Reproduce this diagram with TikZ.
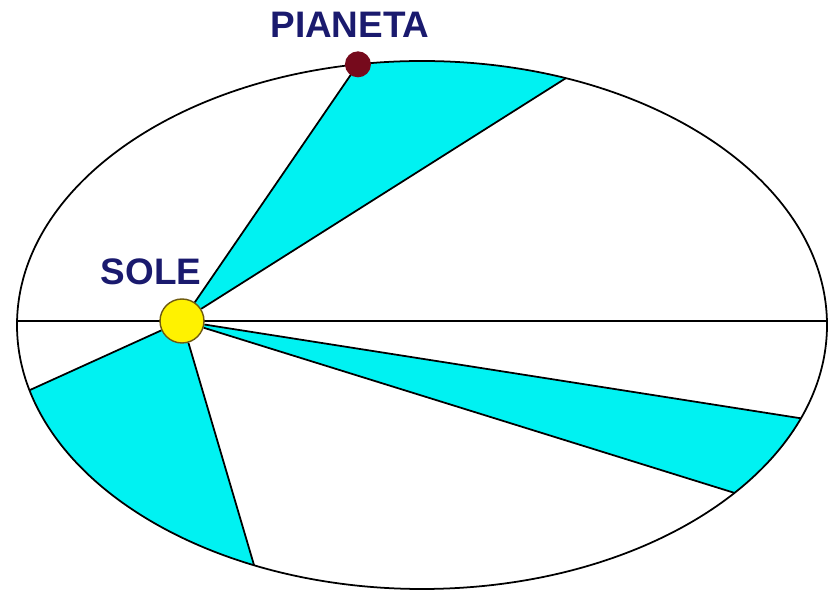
\documentclass[tikz,border=0pt]{standalone}
\usepackage{fontspec}
\setmainfont{Liberation Sans}
\usepackage{xcolor}
\definecolor{cText}{HTML}{1A1A6E}
\definecolor{cArea}{HTML}{00F2F2}
\definecolor{cSun}{HTML}{FFF200}
\definecolor{cSunRim}{HTML}{6E5A10}
\definecolor{cPlanet}{HTML}{760A1C}
\usetikzlibrary{calc,backgrounds}
\tikzset{
  orbit-line/.style={draw=black,line width=1pt},
  area-fill/.style={fill=cArea},
  ray-line/.style={draw=black,line width=1pt},
  body-sun/.style={circle,draw=cSunRim,fill=cSun,line width=0.8pt,
    minimum size=8.8mm,inner sep=0pt},
  body-planet/.style={circle,fill=cPlanet,minimum size=5.2mm,inner sep=0pt},
  label-text/.style={text=cText,font=\bfseries\fontsize{21}{25}\selectfont,
    inner sep=0pt},
}

\begin{document}
\begin{tikzpicture}[x=0.02cm,y=0.02cm]
  \useasboundingbox (0,0) rectangle (832,591);
  \coordinate (c) at (422,266);
  % punti sull'orbita
  \coordinate (pa) at ($(c)+(99.1:405 and 264)$);
  \coordinate (pb) at ($(c)+(69.2:405 and 264)$);
  \coordinate (pc) at ($(c)+(-20.7:405 and 264)$);
  \coordinate (pd) at ($(c)+(-39.5:405 and 264)$);
  \coordinate (pe) at ($(c)+(194.3:405 and 264)$);
  \coordinate (pf) at ($(c)+(245.5:405 and 264)$);
  \coordinate (ax1) at (17,270);
  \coordinate (ax2) at (827,270);
  \node[body-sun]    (sole)    at (182,270) {};
  \node[body-planet] (pianeta) at (pa) {};
  \node[label-text]  (lsole)   at (151,319) {SOLE};
  \node[label-text]  (lpian)   at (350,566) {PIANETA};
  \begin{scope}[on background layer]
    \fill[area-fill] (sole.center) -- (pa)
      arc[start angle=99.1,end angle=69.2,x radius=405,y radius=264] -- cycle;
    \fill[area-fill] (sole.center) -- (pc)
      arc[start angle=-20.7,end angle=-39.5,x radius=405,y radius=264] -- cycle;
    \fill[area-fill] (sole.center) -- (pe)
      arc[start angle=194.3,end angle=245.5,x radius=405,y radius=264] -- cycle;
    \draw[orbit-line] (c) ellipse[x radius=405,y radius=264];
    \draw[orbit-line] (ax1) -- (ax2);
    \draw[ray-line] (sole) -- (pa);
    \draw[ray-line] (sole) -- (pb);
    \draw[ray-line] (sole) -- (pc);
    \draw[ray-line] (sole) -- (pd);
    \draw[ray-line] (sole) -- (pe);
    \draw[ray-line] (sole) -- (pf);
  \end{scope}
\end{tikzpicture}
\end{document}
